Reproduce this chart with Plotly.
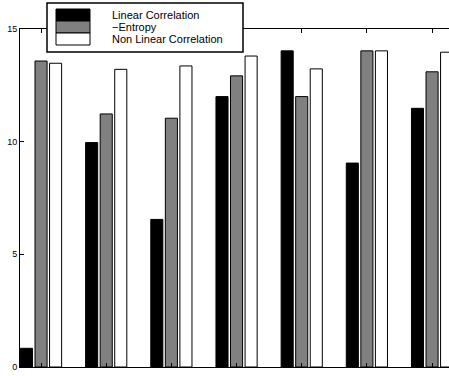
import plotly.graph_objects as go

# Categories and series values
categories = [1, 2, 3, 4, 5, 6, 7]
linear_corr = [0.83, 9.96, 6.55, 12.0, 14.03, 9.05, 11.48]
neg_entropy = [13.58, 11.23, 11.04, 12.92, 12.0, 14.03, 13.1]
nonlinear_corr = [13.48, 13.21, 13.36, 13.8, 13.23, 14.03, 13.97]

series_names = ["Linear Correlation", "\u2212Entropy", "Non Linear Correlation"]
series_values = [linear_corr, neg_entropy, nonlinear_corr]
series_colors = ["#000000", "#808080", "#ffffff"]

W, H = 449, 376
ML, MR, MT, MB = 20, 0, 29, 9
FONT = "Liberation Sans, Arial, Helvetica, sans-serif"

fig = go.Figure()
for name, vals, col in zip(series_names, series_values, series_colors):
    fig.add_trace(go.Bar(
        x=categories, y=vals, name=name,
        marker=dict(color=col, line=dict(color="#000000", width=1)),
        showlegend=False,
    ))

# Hand-built legend box with wide swatches, in paper coordinates
pw, ph = W - ML - MR, H - MT - MB


def px_x(p):
    return (p - ML) / pw


def px_y(p):
    return (H - MB - p) / ph


shapes = [dict(type="rect", xref="paper", yref="paper",
               x0=px_x(47), x1=px_x(243), y0=px_y(52), y1=px_y(3),
               fillcolor="#ffffff", line=dict(color="#000000", width=1.5), layer="above")]
annotations = []
row_top = 9
row_h = 12
for i, (name, col) in enumerate(zip(series_names, series_colors)):
    y0 = row_top + i * row_h
    shapes.append(dict(type="rect", xref="paper", yref="paper",
                       x0=px_x(56), x1=px_x(90), y0=px_y(y0 + row_h), y1=px_y(y0),
                       fillcolor=col, line=dict(color="#000000", width=1), layer="above"))
    annotations.append(dict(xref="paper", yref="paper", x=px_x(110), y=px_y(y0 + row_h / 2),
                            text=name, showarrow=False, xanchor="left", yanchor="middle",
                            font=dict(family=FONT, size=11, color="#000000")))

fig.update_layout(
    width=W, height=H, autosize=False,
    margin=dict(l=ML, r=MR, t=MT, b=MB, pad=0, autoexpand=False),
    paper_bgcolor="#ffffff", plot_bgcolor="#ffffff",
    barmode="group", bargap=0.33, bargroupgap=0.17,
    shapes=shapes, annotations=annotations,
    font=dict(family=FONT, size=9, color="#000000"),
    xaxis=dict(range=[0.677, 7.26], tickmode="array", tickvals=categories,
               ticks="inside", ticklen=4, tickcolor="#000000", automargin=False,
               ticklabelstandoff=4,
               showline=True, linecolor="#000000", linewidth=1, mirror="ticks",
               showgrid=False, zeroline=False, tickfont=dict(size=9)),
    yaxis=dict(range=[0, 15], tickmode="array", tickvals=[0, 5, 10, 15],
               ticks="inside", ticklen=4, tickcolor="#000000", automargin=False,
               showline=True, linecolor="#000000", linewidth=1, mirror=False,
               showgrid=False, zeroline=False, tickfont=dict(size=9)),
)

fig.write_html("out.html")
